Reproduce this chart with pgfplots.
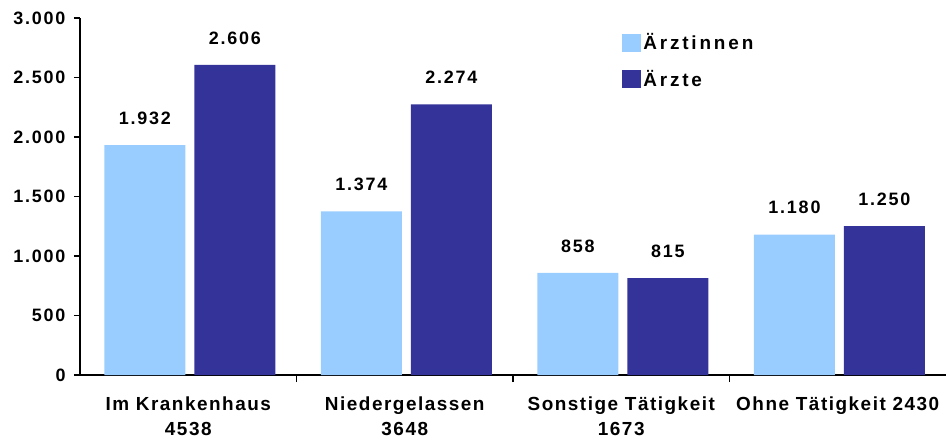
\documentclass[border=0pt]{standalone}
\usepackage{fontspec}
\setmainfont{Liberation Sans}[LetterSpace=8]
\usepackage{pgfplots}
\pgfplotsset{compat=1.18}
\definecolor{lightbar}{HTML}{99CCFF}
\definecolor{darkbar}{HTML}{333399}

\begin{document}
\begin{tikzpicture}
\useasboundingbox (-80bp,-72bp) rectangle (866bp,375bp);
\begin{axis}[
    scale only axis,
    width=866bp, height=357bp,
    xmin=-0.5, xmax=3.5,
    ymin=0, ymax=3000,
    ytick={0,500,...,3000},
    xtick={0,1,2,3},
    xticklabels={{Im Krankenhaus\\4538},{Niedergelassen\\3648},{Sonstige Tätigkeit\\1673},{Ohne Tätigkeit 2430}},
    minor xtick={0.5,1.5,2.5},
    major x tick style={draw=none},
    minor tick length=7bp,
    major tick length=6bp,
    tick align=outside,
    axis lines*=left,
    axis line style={line width=1.6bp},
    every tick/.style={black, line width=1.4bp},
    /pgf/number format/.cd, 1000 sep={.}, assume math mode=true,
    /pgfplots/.cd,
    yticklabel style={font=\bfseries\fontsize{18}{20}\selectfont\addfontfeature{LetterSpace=10}, xshift=-5bp},
    xticklabel style={font=\bfseries\fontsize{19}{25}\selectfont, align=center, yshift=-12bp},
    ybar, bar width=0.374,
    nodes near coords,
    every node near coord/.append style={font=\bfseries\fontsize{18}{20}\selectfont\addfontfeature{LetterSpace=10}, yshift=17bp, black},
    legend style={at={(0.626,0.962)}, anchor=north west, draw=none, fill=none,
        font=\bfseries\fontsize{19}{22}\selectfont\addfontfeature{LetterSpace=15},
        inner sep=0pt, row sep=15bp, nodes={inner xsep=2bp}},
    legend image code/.code={\fill[#1] (0bp,-9bp) rectangle (19bp,9bp);},
    legend cell align=left,
]
\addplot[draw=none, fill=lightbar, bar shift=-0.2] coordinates {(0,1932) (1,1374) (2,858) (3,1180)};
\addplot[draw=none, fill=darkbar, bar shift=0.215] coordinates {(0,2606) (1,2274) (2,815) (3,1250)};
\legend{Ärztinnen, Ärzte}
\end{axis}
\end{tikzpicture}
\end{document}
